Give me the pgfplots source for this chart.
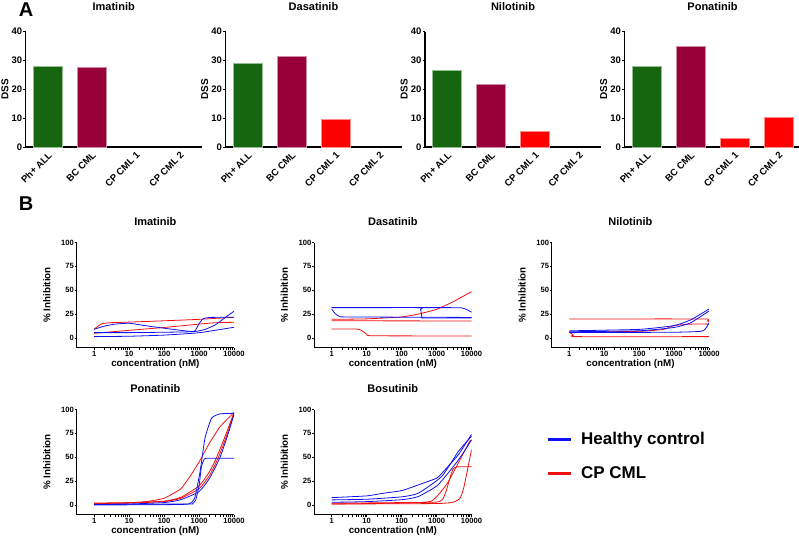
\documentclass[border=0pt]{standalone}
\usepackage{fontspec}
\setmainfont{Liberation Sans}
\usepackage{pgfplots}
\pgfplotsset{compat=1.18}
\definecolor{cGreen}{HTML}{15660F}
\definecolor{cMaroon}{HTML}{98003A}
\definecolor{cRed}{HTML}{FF0000}
\definecolor{cB}{HTML}{1010F0}
\definecolor{cR}{HTML}{F01010}
\tikzset{
  hb/.style={draw=cB, line width=0.8pt, smooth, tension=0.3},
  hr/.style={draw=cR, line width=0.8pt, smooth, tension=0.3},
}
\pgfplotsset{
  barax/.style={scale only axis, width=176pt, height=115.3pt,
    xmin=-0.5, xmax=3.5, ymin=0, ymax=40,
    axis x line*=bottom, axis y line*=left, axis line style={line width=1.1pt,-},
    ytick={0,10,20,30,40}, xtick={0,1,2,3},
    xticklabels={Ph+ ALL,BC CML,CP CML 1,CP CML 2},
    xtick style={draw=none}, ytick style={line width=1pt,black},
    major tick length=2.5pt, tick align=outside,
    tick label style={font=\bfseries\fontsize{9.5}{10}\selectfont},
    yticklabel style={inner sep=0.8pt},
    xticklabel style={rotate=45, anchor=north east, inner sep=1pt},
    ylabel={DSS},
    every axis y label/.style={at={(axis description cs:-0.118,0.5)}, rotate=90, anchor=center,
      font=\bfseries\fontsize{10}{11}\selectfont},
    every axis title/.style={at={(axis description cs:0.5,1.214)}, anchor=center,
      font=\bfseries\fontsize{11}{12}\selectfont},
    ybar, bar width=29pt, bar shift=0pt,
    /pgf/number format/assume math mode=true},
  curveax/.style={scale only axis, width=157.3pt, height=105pt,
    xmin=0.3162, xmax=10000, ymin=-10, ymax=100,
    axis x line*=bottom, axis y line*=left, axis line style={line width=1pt,-},
    xtick={1,10,100,1000,10000}, xticklabels={1,10,100,1000,10000},
    ytick={0,25,50,75,100}, minor tick num=0,
    tick style={line width=.9pt,black}, major tick length=2pt, tick align=outside,
    tick label style={font=\bfseries\fontsize{7.6}{8}\selectfont},
    yticklabel style={inner sep=0.6pt}, xticklabel style={inner sep=1.5pt},
    xlabel={concentration (nM)}, ylabel={\% Inhibition},
    every axis x label/.style={at={(axis description cs:0.5,-0.157)}, anchor=center,
      font=\bfseries\fontsize{9.8}{11}\selectfont},
    every axis y label/.style={at={(axis description cs:-0.189,0.5)}, rotate=90, anchor=center,
      font=\bfseries\fontsize{9.8}{11}\selectfont},
    every axis title/.style={at={(axis description cs:0.5,1.2)}, anchor=center,
      font=\bfseries\fontsize{11}{12}\selectfont},
    /pgf/number format/assume math mode=true},
}
\begin{document}
\begin{tikzpicture}[x=1pt,y=1pt]
\useasboundingbox (0,0) rectangle (799,-538);

\node[font=\bfseries\fontsize{20}{20}\selectfont] at (26,-10) {A};
\node[font=\bfseries\fontsize{20}{20}\selectfont] at (26,-203.5) {B};

% ---- A: DSS bars
\begin{axis}[barax, at={(25.7pt,-147pt)}, title={Imatinib}]
\addplot[fill=cGreen, draw=cGreen!45!white, line width=.5pt] coordinates {(0,28.0)};
\addplot[fill=cMaroon, draw=cMaroon!45!white, line width=.5pt] coordinates {(1,27.7)};
\end{axis}
\begin{axis}[barax, at={(225.5pt,-147pt)}, title={Dasatinib}]
\addplot[fill=cGreen, draw=cGreen!45!white, line width=.5pt] coordinates {(0,29.0)};
\addplot[fill=cMaroon, draw=cMaroon!45!white, line width=.5pt] coordinates {(1,31.4)};
\addplot[fill=cRed, draw=cRed!45!white, line width=.5pt] coordinates {(2,9.5)};
\end{axis}
\begin{axis}[barax, at={(425pt,-147pt)}, title={Nilotinib}]
\addplot[fill=cGreen, draw=cGreen!45!white, line width=.5pt] coordinates {(0,26.8)};
\addplot[fill=cMaroon, draw=cMaroon!45!white, line width=.5pt] coordinates {(1,21.7)};
\addplot[fill=cRed, draw=cRed!45!white, line width=.5pt] coordinates {(2,5.4)};
\end{axis}
\begin{axis}[barax, at={(624.5pt,-147pt)}, title={Ponatinib}]
\addplot[fill=cGreen, draw=cGreen!45!white, line width=.5pt] coordinates {(0,28.0)};
\addplot[fill=cMaroon, draw=cMaroon!45!white, line width=.5pt] coordinates {(1,34.9)};
\addplot[fill=cRed, draw=cRed!45!white, line width=.5pt] coordinates {(2,3.2)};
\addplot[fill=cRed, draw=cRed!45!white, line width=.5pt] coordinates {(3,10.3)};
\end{axis}

% ---- B: dose response curves
\begin{semilogxaxis}[curveax, at={(76.7pt,-347.5pt)}, title={Imatinib}]
\addplot[hr] coordinates {(1,9.1)(1.3,12.5)(1.7,15)(3,16)(10,16.6)(100,18)(1000,19.5)(10000,21.7)};
\addplot[hr] coordinates {(1,4.9)(10,8)(100,11)(1000,14.5)(3000,16)(10000,16.4)};
\addplot[hb] coordinates {(1,9.1)(2,12.5)(4,14.5)(10,15.4)(30,12.8)(100,10.2)(300,8)(700,6.6)(850,10)(1000,15)(1300,20)(2000,21.5)(10000,21.7)};
\addplot[hb] coordinates {(1,5.6)(10,5.6)(100,6)(700,6.6)(1500,9)(3000,14)(5000,20)(7000,24)(10000,28)};
\addplot[hb] coordinates {(1,1.4)(10,1.8)(100,3)(1000,5.5)(10000,11.2)};
\end{semilogxaxis}

\begin{semilogxaxis}[curveax, at={(314.2pt,-347.5pt)}, title={Dasatinib}]
\addplot[hr] coordinates {(1,19.5)(10,20)(100,22)(300,25)(1000,30)(3000,38)(10000,48.5)};
\addplot[hr] coordinates {(1,18)(10000,17.8)};
\addplot[hr] coordinates {(1,9.4)(5,9.4)(7,8)(10,4)(15,2.3)(10000,2.1)};
\addplot[hb] coordinates {(1,31.8)(1000,31.8)(5000,31.6)(7000,30)(10000,27)};
\addplot[hb] coordinates {(1,30)(1.3,25)(1.7,22.5)(3,22)(10000,21.5)};
\addplot[hb] coordinates {(1,31.8)(300,31.8)(350,30)(380,22)(420,21)(10000,20.9)};
\end{semilogxaxis}

\begin{semilogxaxis}[curveax, at={(551.8pt,-347.5pt)}, title={Nilotinib}]
\addplot[hr] coordinates {(1,19.9)(7000,19.9)(9000,18)(10000,17)};
\addplot[hr] coordinates {(1,6)(100,7)(500,9)(1000,13)(3000,14.5)(10000,14.5)};
\addplot[hr] coordinates {(1,6.6)(1.3,3)(1.7,1.4)(10000,1.4)};
\addplot[hb] coordinates {(1,7.5)(100,9)(1000,13)(3000,19)(10000,30.4)};
\addplot[hb] coordinates {(1,6.5)(100,7.5)(1000,11)(3000,16)(10000,28.3)};
\addplot[hb] coordinates {(1,5.6)(1000,6)(6000,7)(8000,10)(10000,16)};
\end{semilogxaxis}

\begin{semilogxaxis}[curveax, at={(76.7pt,-514.5pt)}, title={Ponatinib}]
\addplot[hr] coordinates {(1,1.4)(10,2.2)(30,3.5)(100,7)(300,17)(600,32)(1000,45)(2000,65)(4000,82)(10000,97)};
\addplot[hr] coordinates {(1,2)(10,2.5)(100,4)(300,8)(1000,20)(2000,35)(3200,50)(6000,75)(10000,97)};
\addplot[hr] coordinates {(1,1.5)(10,2)(100,3.5)(300,7)(1000,17)(2000,31)(3600,50)(6500,75)(10000,96)};
\addplot[hb] coordinates {(1,0)(100,0.3)(500,1)(750,7)(1070,35)(1480,70)(2290,91)(4000,95.4)(10000,96)};
\addplot[hb] coordinates {(1,0.5)(500,1)(630,1)(800,5)(1000,20)(1170,40)(1410,48)(1800,49)(10000,49)};
\addplot[hb] coordinates {(1,0.5)(10,1)(100,2.5)(300,5.5)(1000,14)(2000,28)(4000,50)(7000,76)(10000,95)};
\end{semilogxaxis}

\begin{semilogxaxis}[curveax, at={(314.2pt,-514.5pt)}, title={Bosutinib},
  legend style={at={(axis description cs:1.475,0.555)}, anchor=west, draw=none, fill=none,
    inner sep=0pt, row sep=17pt, font=\bfseries\fontsize{17}{19}\selectfont,
    cells={anchor=west}},
  legend image code/.code={\draw[#1, line width=3pt] (0pt,0pt) -- (23pt,0pt); \path (31pt,0pt);}]
\addplot[hr, forget plot] coordinates {(1,1.8)(100,2.5)(1000,3)(1500,6)(1900,15)(2500,30)(3000,38)(4000,40)(10000,40)};
\addplot[hr, forget plot] coordinates {(1,1)(100,2)(700,3.9)(1900,21)(4200,44)(8900,66.7)(10000,68)};
\addplot[hr, forget plot] coordinates {(1,1)(1000,1.5)(3000,3)(4700,7)(6000,18)(7500,35)(10000,58)};
\addplot[hb, forget plot] coordinates {(1,7.7)(10,9.5)(30,12.3)(100,15)(300,21)(1000,28)(1400,33)(4200,52.6)(10000,74)};
\addplot[hb, forget plot] coordinates {(1,5.3)(10,6)(100,8.5)(300,12.3)(1400,29.8)(4200,56)(10000,72)};
\addplot[hb, forget plot] coordinates {(1,2.8)(10,3.5)(100,5.5)(300,8.8)(1100,21)(4200,47)(10000,68)};
\addlegendimage{draw=cB}
\addlegendentry{Healthy control}
\addlegendimage{draw=cR}
\addlegendentry{CP CML}
\end{semilogxaxis}
\end{tikzpicture}
\end{document}
